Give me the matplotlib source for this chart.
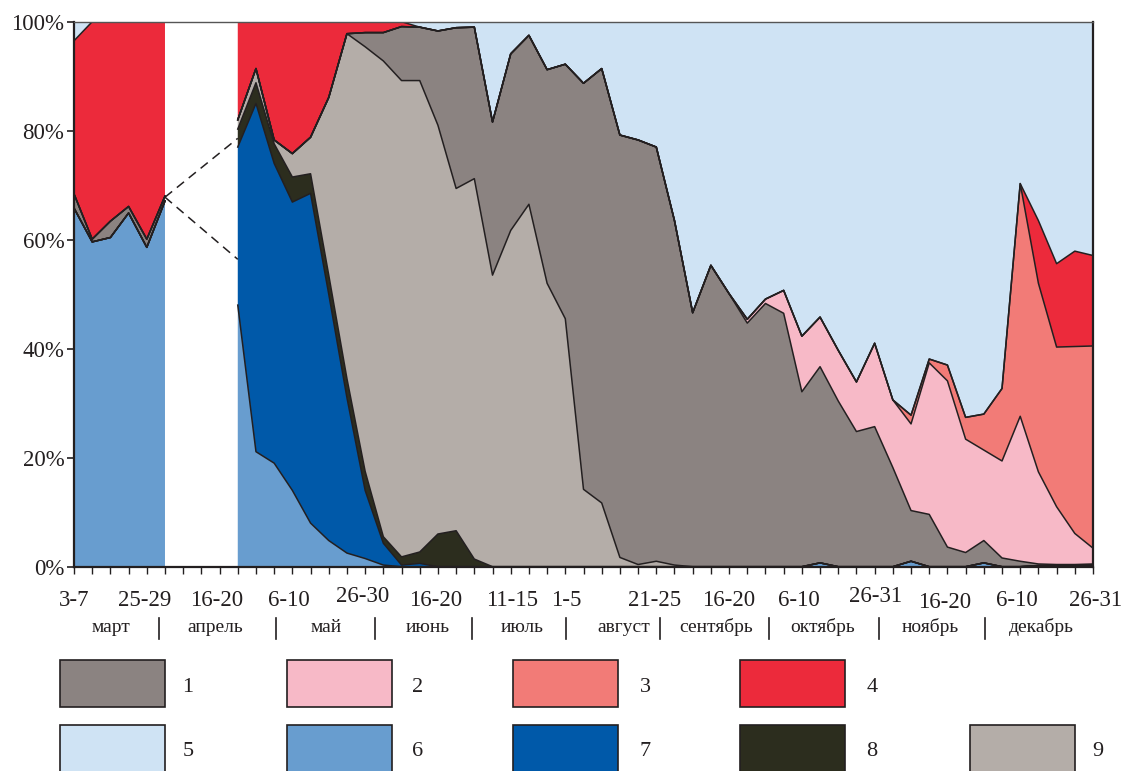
import numpy as np
import matplotlib.pyplot as plt
from matplotlib.patches import Rectangle
from matplotlib.lines import Line2D

plt.rcParams['font.family'] = ['Liberation Serif', 'DejaVu Serif']

nan = np.nan
# pentads: 0..5 in March, 6..8 missing (April), 9..56 May-December
pentad = np.arange(57)

# share of each group, % (groups 1..9)
g1 = [2.6, 0.5, 3.0, 1.2, 1.5, 0.9, nan, nan, nan,
      0, 0, 0, 0, 0, 0, 0, 2.6, 5.2, 9.9, 9.8, 17.3, 29.5, 27.8, 28.1, 32.4, 31.0,
      39.2, 46.7, 74.5, 79.7, 77.5, 77.9, 76.0, 63.2, 46.6, 55.3, 50.1, 44.7, 48.3,
      46.5, 32.1, 36.0, 30.4, 24.8, 25.7, 18.2, 9.3, 9.6, 3.6, 2.6, 4.1, 1.6, 1.0,
      0.3, 0.2, 0.2, 0.2]
g2 = [0, 0, 0, 0, 0, 0, nan, nan, nan,
      0, 0, 0, 0, 0, 0, 0, 0, 0, 0, 0, 0, 0, 0, 0, 0, 0, 0, 0, 0, 0, 0, 0, 0, 0,
      0, 0, 0, 0.7, 0.8, 4.2, 10.2, 9.1, 9.3, 9.1, 15.3, 12.4, 15.9, 27.8, 30.5,
      20.8, 16.6, 17.8, 26.6, 16.9, 10.6, 5.7, 2.9]
g3 = [0, 0, 0, 0, 0, 0, nan, nan, nan,
      0, 0, 0, 0, 0, 0, 0, 0, 0, 0, 0, 0, 0, 0, 0, 0, 0, 0, 0, 0, 0, 0, 0, 0, 0,
      0, 0, 0, 0, 0, 0, 0, 0, 0, 0, 0, 0, 1.6, 0.7, 2.9, 4.0, 6.6, 13.3, 42.7,
      34.6, 29.3, 34.3, 37.1]
g4 = [28.1, 39.9, 36.6, 33.9, 39.9, 32.0, nan, nan, nan,
      18.0, 8.6, 21.7, 24.2, 21.2, 13.9, 2.2, 2.0, 2.0, 0.9, 0, 0, 0, 0, 0, 0, 0,
      0, 0, 0, 0, 0, 0, 0, 0, 0, 0, 0, 0, 0, 0, 0, 0, 0, 0, 0, 0, 0, 0, 0, 0, 0,
      0, 0, 11.5, 15.3, 17.5, 16.6]
g5 = [3.5, 0, 0, 0, 0, 0, nan, nan, nan,
      0, 0, 0, 0, 0, 0, 0, 0, 0, 0, 1.0, 1.7, 1.1, 1.0, 18.4, 5.9, 2.5, 8.8, 7.8,
      11.3, 8.6, 20.8, 21.7, 23.0, 36.5, 53.4, 44.7, 49.9, 54.6, 50.9, 49.3, 57.7,
      54.2, 60.3, 66.1, 59.0, 69.4, 72.2, 61.9, 63.0, 72.6, 72.0, 67.3, 29.7,
      36.5, 44.4, 42.1, 42.9]
g6 = [65.8, 59.6, 60.4, 64.9, 58.6, 67.1, nan, nan, nan,
      48.0, 21.1, 19.0, 14.0, 8.0, 4.8, 2.5, 1.5, 0.3, 0, 0, 0, 0, 0, 0, 0, 0, 0,
      0, 0, 0, 0, 0, 0, 0, 0, 0, 0, 0, 0, 0, 0, 0.7, 0, 0, 0, 0, 1.0, 0, 0, 0,
      0.7, 0, 0, 0.2, 0.2, 0.2, 0.3]
g7 = [0, 0, 0, 0, 0, 0, nan, nan, nan,
      29.0, 63.9, 55.0, 52.9, 60.5, 45.2, 28.5, 12.5, 4.0, 0.3, 0.6, 0, 0, 0, 0,
      0, 0, 0, 0, 0, 0, 0, 0, 0, 0, 0, 0, 0, 0, 0, 0, 0, 0, 0, 0, 0, 0, 0, 0, 0,
      0, 0, 0, 0, 0, 0, 0, 0]
g8 = [0, 0, 0, 0, 0, 0, nan, nan, nan,
      3.3, 3.8, 3.6, 4.6, 3.6, 3.5, 3.5, 3.5, 1.2, 1.5, 2.1, 6.0, 6.6, 1.4, 0, 0,
      0, 0, 0, 0, 0, 0, 0, 0, 0, 0, 0, 0, 0, 0, 0, 0, 0, 0, 0, 0, 0, 0, 0, 0, 0,
      0, 0, 0, 0, 0, 0, 0]
g9 = [0, 0, 0, 0, 0, 0, nan, nan, nan,
      1.7, 2.6, 0.7, 4.3, 6.7, 32.6, 63.3, 77.9, 87.3, 87.4, 86.5, 75.0, 62.8,
      69.8, 53.5, 61.7, 66.5, 52.0, 45.5, 14.2, 11.7, 1.7, 0.4, 1.0, 0.3, 0, 0, 0,
      0, 0, 0, 0, 0, 0, 0, 0, 0, 0, 0, 0, 0, 0, 0, 0, 0, 0, 0, 0]

colors = {
    '1': '#8b8381', '2': '#f7b9c7', '3': '#f27b77', '4': '#ec2a3b',
    '5': '#cfe3f4', '6': '#689dcf', '7': '#0059a9', '8': '#2c2d1e', '9': '#b4ada8',
}

# stacking order from the bottom up
stack = [('6', g6), ('7', g7), ('8', g8), ('9', g9), ('1', g1),
         ('2', g2), ('3', g3), ('4', g4), ('5', g5)]

W, H = 1121, 771
fig = plt.figure(figsize=(W / 100, H / 100), dpi=100)
ax = fig.add_axes([74 / W, 1 - 566.7 / H, (1093 - 74) / W, (566.7 - 21.7) / H])

base = np.zeros(len(pentad))
tops = []
for name, vals in stack:
    top = base + np.array(vals, dtype=float)
    ax.fill_between(pentad, base, top, facecolor=colors[name], linewidth=0)
    tops.append(top)
    base = top

for top in tops[:-1]:
    ax.plot(pentad, top, color='#231f20', lw=1.1)

# dashed link across the April gap
ax.plot([5, 9], [67.8, 78.6], color='#231f20', lw=1.1, ls=(0, (6, 4)))
ax.plot([5, 9], [67.8, 56.4], color='#231f20', lw=1.1, ls=(0, (6, 4)))

ax.set_xlim(0, 56)
ax.set_ylim(0, 100)
ax.set_yticks([0, 20, 40, 60, 80, 100])
ax.set_yticklabels(['0%', '20%', '40%', '60%', '80%', '100%'], fontsize=16.5)
ax.set_xticks(pentad)
ax.set_xticklabels([])
ax.tick_params(axis='y', direction='out', length=5, width=1.2, colors='#231f20', pad=2)
ax.tick_params(axis='x', direction='out', length=5, width=1.0, colors='#231f20')
for side in ['left', 'right', 'bottom']:
    ax.spines[side].set_linewidth(1.6)
    ax.spines[side].set_color('#231f20')
ax.spines['top'].set_linewidth(1.0)
ax.spines['top'].set_color('#555555')

# pentad labels under the axis
pentad_labels = [('3-7', 74, 601), ('25-29', 145, 601), ('16-20', 217, 601),
                 ('6-10', 289, 601), ('26-30', 363, 597), ('16-20', 436, 601),
                 ('11-15', 512, 601), ('1-5', 566, 601), ('21-25', 655, 601),
                 ('16-20', 729, 601), ('6-10', 799, 601), ('26-31', 876, 597),
                 ('16-20', 945, 603), ('6-10', 1017, 601), ('26-31', 1096, 600)]
for s, x, y in pentad_labels:
    fig.text(x / W, 1 - y / H, s, ha='center', va='center', fontsize=16.5, color='#231f20')

months = [('март', 111), ('апрель', 215), ('май', 326), ('июнь', 428), ('июль', 522),
          ('август', 624), ('сентябрь', 716), ('октябрь', 823), ('ноябрь', 930),
          ('декабрь', 1041)]
for s, x in months:
    fig.text(x / W, 1 - 627 / H, s, ha='center', va='center', fontsize=14, color='#231f20')

for x in [159, 276, 375, 472, 566, 660, 769, 879, 985]:
    fig.add_artist(Line2D([x / W, x / W], [1 - 618 / H, 1 - 639 / H],
                          transform=fig.transFigure, color='#231f20', lw=1.2))

# legend boxes
legend_rows = [(['1', '2', '3', '4'], 660, 707, 688),
               (['5', '6', '7', '8', '9'], 725, 773, 752)]
box_x = [60, 287, 513, 740, 970]
label_x = [188, 418, 645, 872, 1098]
for names, y0, y1, ty in legend_rows:
    for i, name in enumerate(names):
        fig.add_artist(Rectangle((box_x[i] / W, 1 - y1 / H), 105 / W, (y1 - y0) / H,
                                 transform=fig.transFigure, facecolor=colors[name],
                                 edgecolor='#231f20', lw=1.2))
        fig.text(label_x[i] / W, 1 - ty / H, name, ha='center', va='center',
                 fontsize=16, color='#231f20')

plt.savefig('out.png', dpi=100)
